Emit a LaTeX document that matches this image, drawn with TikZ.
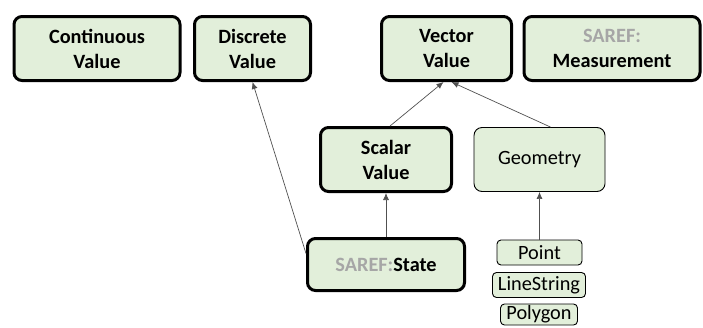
\documentclass[tikz,border=0pt]{standalone}
\usepackage{fontspec}
\setmainfont{Carlito}
\usepackage{tikz}
\usetikzlibrary{arrows.meta,positioning}
\definecolor{boxgreen}{HTML}{E2EFDA}
\definecolor{sarefgray}{HTML}{A6A6A6}
\definecolor{linkgray}{HTML}{505050}

\begin{document}
\begin{tikzpicture}[
        x=1pt, y=-1pt,
        cls/.style={rectangle, draw=black, fill=boxgreen, rounded corners=8pt, align=center, inner sep=0pt, font=\fontsize{20.3}{25}\selectfont},
        core/.style={cls, line width=3pt, font=\fontsize{20.3}{25}\selectfont\bfseries},
        leaf/.style={cls, line width=0.9pt},
        small/.style={leaf, rounded corners=4pt, minimum height=25pt},
        arrow/.style={-{Latex[length=7pt,width=6pt]}, draw=linkgray, line width=0.7pt}
    ]
        \useasboundingbox (0,0) rectangle (703,327);

        % Top row of value classes
        \node[core, minimum width=166pt, minimum height=64pt] (continuous) at (97,48.5) {Continuous\\Value};
        \node[core, minimum width=116pt, minimum height=64pt] (discrete) at (252.5,48.5) {Discrete\\Value};
        \node[core, minimum width=130pt, minimum height=64pt] (vector) at (446.5,48.5) {Vector\\Value};
        \node[cls, line width=3pt, minimum width=176pt, minimum height=64pt] (measurement) at (612,48.5) {{\bfseries\color{sarefgray}SAREF:}\\\bfseries Measurement};

        % Middle row
        \node[core, minimum width=131pt, minimum height=64pt] (scalar) at (386,159.5) {Scalar\\Value};
        \node[leaf, minimum width=131pt, minimum height=64pt] (geometry) at (539.5,159.5) {Geometry};

        % SAREF state
        \node[core, minimum width=157pt, minimum height=52pt] (state) at (386,264.5) {{\color{sarefgray}SAREF:}State};

        % Geometry types
        \node[small, minimum width=85pt] (point) at (539.5,252.5) {Point};
        \node[small, minimum width=93pt] (linestring) at (539,285) {LineString};
        \node[small, minimum width=77pt, minimum height=21pt] (polygon) at (539,314.5) {Polygon};

        % Links
        \draw[arrow] ([yshift=11pt]state.west) -- (discrete.south);
        \draw[arrow] (state.north) -- (scalar.south);
        \draw[arrow] ([xshift=4pt]scalar.north) -- ([xshift=-3pt]vector.south);
        \draw[arrow] ([xshift=11pt]geometry.north) -- ([xshift=5pt]vector.south);
        \draw[arrow] (point.north) -- (geometry.south);

    \end{tikzpicture}
\end{document}
